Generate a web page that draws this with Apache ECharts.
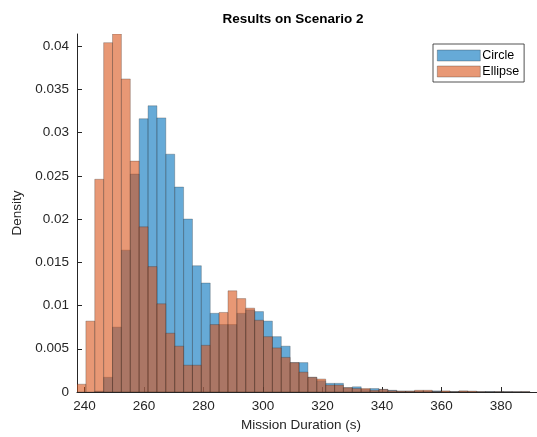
<!DOCTYPE html>
<html>
<head>
<meta charset="utf-8">
<title>Results on Scenario 2</title>
<script src="https://cdn.jsdelivr.net/npm/echarts@6/dist/echarts.min.js"></script>
<style>
  html, body { margin: 0; padding: 0; background: #ffffff; }
  #chart { width: 537px; height: 437px; }
</style>
</head>
<body>
<div id="chart"></div>
<script>
// Histogram bins: left edge of the first bin and the common bin width (s)
const binStart = 237.5;
const binWidth = 2.985;

// Probability density per bin, Circle strategy
const circleDensity = [
  0, 0, 0.0001, 0.0017, 0.0075, 0.0164, 0.0252, 0.0316, 0.0331, 0.0317,
  0.0275, 0.0237, 0.0200, 0.0146, 0.0126, 0.0091, 0.0078, 0.0078, 0.0091, 0.0095,
  0.0093, 0.0082, 0.0064, 0.0053, 0.0034, 0.0034, 0.0017, 0.0013, 0.0010, 0.0010,
  0.0005, 0.0006, 0.0003, 0.0004, 0.0003, 0.0002, 0.0001, 0.0001, 0.0001, 0.0001,
  0.00013, 0.00005, 0.00005, 0.00008, 0.00003, 0.00003, 0.00005, 0.00003, 0.00003, 0.00002,
  0.00002
];

// Probability density per bin, Ellipse strategy
const ellipseDensity = [
  0.0009, 0.0082, 0.0246, 0.0404, 0.0414, 0.0362, 0.0267, 0.0191, 0.0145, 0.0102,
  0.0068, 0.0053, 0.0031, 0.0031, 0.0054, 0.0078, 0.0092, 0.0117, 0.0108, 0.0097,
  0.0083, 0.0064, 0.0051, 0.0040, 0.0034, 0.0023, 0.0017, 0.0015, 0.0008, 0.0008,
  0.0005, 0.0004, 0.0004, 0.0002, 0.0003, 0.00015, 0.0001, 0.0001, 0.0002, 0.0002,
  0.00005, 0.00013, 0.00003, 0.00013, 0.0001, 0.00003, 0.00002, 0.00003, 0.00002, 0.00002,
  0.00003
];

// Axis ticks
const xTicks = [240, 260, 280, 300, 320, 340, 360, 380];
const yTicks = [0, 0.005, 0.01, 0.015, 0.02, 0.025, 0.03, 0.035, 0.04];

const seriesNames = ['Circle', 'Ellipse'];

const FONT = '"Liberation Sans", Arial, Helvetica, sans-serif';
const AXIS_COLOR = '#262626';

// [left edge, right edge, density] rows for a custom series
function toBins(values) {
  return values.map((v, i) => [binStart + i * binWidth, binStart + (i + 1) * binWidth, v]);
}

function histRenderer(fill) {
  return function (params, api) {
    const h = api.value(2);
    if (!h) return null;
    const topLeft = api.coord([api.value(0), h]);
    const bottomRight = api.coord([api.value(1), 0]);
    return {
      type: 'rect',
      shape: {
        x: topLeft[0],
        y: topLeft[1],
        width: bottomRight[0] - topLeft[0],
        height: bottomRight[1] - topLeft[1]
      },
      style: {
        fill: fill,
        stroke: 'rgba(38,38,38,0.45)',
        lineWidth: 0.6
      }
    };
  };
}

const blueFill = 'rgba(0,114,189,0.6)';
const orangeFill = 'rgba(217,83,25,0.6)';

const chart = echarts.init(document.getElementById('chart'), null, { renderer: 'canvas' });

chart.setOption({
  animation: false,
  backgroundColor: '#ffffff',
  textStyle: { fontFamily: FONT },
  title: {
    text: 'Results on Scenario 2',
    left: 288,
    top: 7,
    textAlign: 'center',
    textStyle: { fontFamily: FONT, fontSize: 13.5, fontWeight: 'bold', color: '#000000' }
  },
  legend: {
    data: seriesNames,
    orient: 'vertical',
    left: 433,
    top: 44,
    icon: 'rect',
    itemWidth: 43,
    itemHeight: 11,
    itemGap: 3,
    padding: [5, 5, 4, 4],
    borderColor: AXIS_COLOR,
    borderWidth: 0.8,
    backgroundColor: '#ffffff',
    itemStyle: { borderColor: 'rgba(38,38,38,0.5)', borderWidth: 0.6 },
    textStyle: { fontFamily: FONT, fontSize: 12.5, color: '#000000', padding: [0, 0, 0, -3] }
  },
  grid: { left: 77, right: 0, top: 34, bottom: 45, containLabel: false },
  xAxis: {
    type: 'value',
    min: binStart,
    max: 392.1,
    name: 'Mission Duration (s)',
    nameLocation: 'middle',
    nameGap: 22,
    nameTextStyle: { fontFamily: FONT, fontSize: 13.5, color: AXIS_COLOR, padding: [0, 12, 0, 0] },
    axisLine: { show: true, lineStyle: { color: AXIS_COLOR, width: 1 } },
    axisTick: { show: true, inside: true, length: 5, customValues: xTicks, lineStyle: { color: AXIS_COLOR } },
    axisLabel: {
      customValues: xTicks,
      margin: 7,
      fontFamily: FONT,
      fontSize: 13.5,
      color: AXIS_COLOR
    },
    splitLine: { show: false }
  },
  yAxis: {
    type: 'value',
    min: 0,
    max: 0.0414,
    name: 'Density',
    nameLocation: 'middle',
    nameGap: 51,
    nameTextStyle: { fontFamily: FONT, fontSize: 13.5, color: AXIS_COLOR },
    axisLine: { show: true, lineStyle: { color: AXIS_COLOR, width: 1 } },
    axisTick: { show: true, inside: true, length: 5, customValues: yTicks, lineStyle: { color: AXIS_COLOR } },
    axisLabel: {
      customValues: yTicks,
      margin: 8,
      fontFamily: FONT,
      fontSize: 13.5,
      color: AXIS_COLOR,
      formatter: v => String(+v.toFixed(3))
    },
    splitLine: { show: false }
  },
  series: [
    {
      name: seriesNames[0],
      type: 'custom',
      renderItem: histRenderer(blueFill),
      itemStyle: { color: blueFill },
      encode: { x: [0, 1], y: 2 },
      data: toBins(circleDensity),
      clip: true
    },
    {
      name: seriesNames[1],
      type: 'custom',
      renderItem: histRenderer(orangeFill),
      itemStyle: { color: orangeFill },
      encode: { x: [0, 1], y: 2 },
      data: toBins(ellipseDensity),
      clip: true
    }
  ]
});
</script>
</body>
</html>
